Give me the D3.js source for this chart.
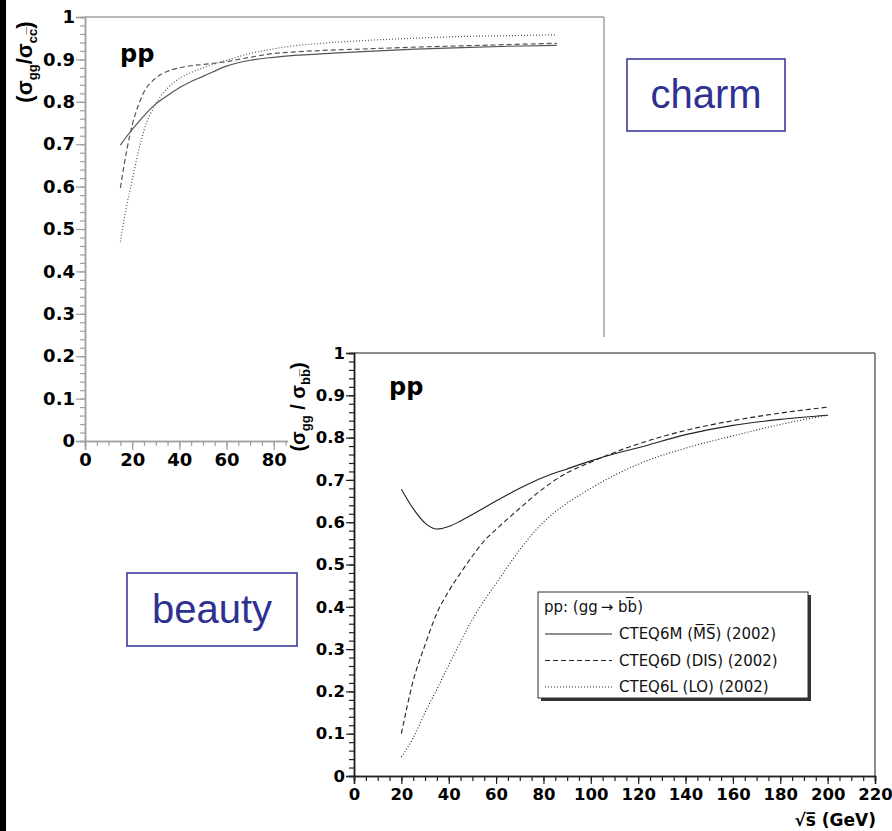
<!DOCTYPE html>
<html><head><meta charset="utf-8">
<script src="https://cdn.jsdelivr.net/npm/d3@7"></script>
<style>
html,body{margin:0;padding:0;background:#fff;overflow:hidden}
svg{display:block;font-family:"Liberation Sans",Arial,Helvetica,sans-serif}
</style></head><body>
<svg id="c" width="892" height="831"></svg>
<script>
// ---- data ----
const charmX = [15,17.5,20,22.5,25,30,35,40,45,50,60,70,80,90,100,120,140,160,180,200];
const charmMS  = [0.698,0.717,0.735,0.751,0.767,0.795,0.815,0.833,0.848,0.860,0.884,0.898,0.905,0.910,0.913,0.919,0.924,0.928,0.931,0.933];
const charmDIS = [0.597,0.680,0.745,0.790,0.823,0.856,0.872,0.880,0.885,0.888,0.895,0.905,0.914,0.918,0.921,0.925,0.929,0.932,0.935,0.938];
const charmLO  = [0.470,0.550,0.615,0.680,0.733,0.795,0.832,0.855,0.869,0.880,0.898,0.914,0.925,0.933,0.938,0.945,0.950,0.954,0.956,0.958];

const beautyX = [20,25,30,35,40,45,50,55,60,70,80,90,100,110,120,140,160,180,200];
const beautyMS  = [0.678,0.632,0.598,0.584,0.590,0.603,0.618,0.634,0.650,0.680,0.706,0.726,0.745,0.762,0.776,0.807,0.829,0.843,0.853];
const beautyDIS = [0.100,0.225,0.310,0.385,0.437,0.480,0.520,0.556,0.583,0.633,0.680,0.717,0.742,0.765,0.785,0.817,0.840,0.858,0.872];
const beautyLO  = [0.045,0.090,0.150,0.205,0.262,0.318,0.370,0.415,0.455,0.535,0.600,0.645,0.680,0.711,0.737,0.775,0.804,0.831,0.853];

const yTicks = [0,0.1,0.2,0.3,0.4,0.5,0.6,0.7,0.8,0.9,1];
const xTicks = [0,20,40,60,80,100,120,140,160,180,200,220];
const legendTitle = "pp: (gg\u2009\u2192 bb\u0305)";
const legendLabels = ["CTEQ6M (M\u0305S\u0305) (2002)","CTEQ6D (DIS) (2002)","CTEQ6L (LO) (2002)"];

const svg = d3.select("#c");
svg.append("rect").attr("width",892).attr("height",831).attr("fill","#fff");

const BOLD = "'DejaVu Sans',Verdana,sans-serif";
const yFmt = d => d===0?"0":d===1?"1":d3.format(".1f")(d);
const minorY = d3.range(0,1.0001,0.02);
const minorX = d3.range(0,220.001,5);
const dashes = [null,"5,3","1,2"];

function drawPanel(o){
  const x = d3.scaleLinear().domain([0,220]).range([o.x0,o.x1]);
  const y = d3.scaleLinear().domain([0,1]).range([o.y0,o.y1]);
  const g = svg.append("g");
  g.append("line").attr("x1",o.x0).attr("x2",o.x1).attr("y1",o.y1).attr("y2",o.y1).attr("stroke",o.frame).attr("stroke-width",1.5);
  g.append("line").attr("x1",o.x1).attr("x2",o.x1).attr("y1",o.y1).attr("y2",o.y0).attr("stroke",o.frame).attr("stroke-width",1.5);
  const ym = g.append("g").attr("transform",`translate(${o.x0},0)`).call(d3.axisLeft(y).tickValues(minorY).tickSize(o.minor).tickFormat(""));
  const xm = g.append("g").attr("transform",`translate(0,${o.y0})`).call(d3.axisBottom(x).tickValues(minorX).tickSize(o.minor).tickFormat(""));
  const ya = g.append("g").attr("transform",`translate(${o.x0},0)`).call(d3.axisLeft(y).tickValues(yTicks).tickSize(o.major).tickPadding(1).tickFormat(yFmt));
  const xa = g.append("g").attr("transform",`translate(0,${o.y0})`).call(d3.axisBottom(x).tickValues(xTicks).tickSize(o.major).tickPadding(o.xpad).tickFormat(d3.format("d")));
  [ym,xm,ya,xa].forEach(a=>{
    a.selectAll("path").attr("stroke",o.axis).attr("stroke-width",1.5);
    a.selectAll("line").attr("stroke",o.axis).attr("stroke-width",1.2);
    a.selectAll("text").attr("fill","#000").attr("font-weight","bold").attr("font-size",o.fs).attr("font-family",BOLD);
  });
  const line = d3.line().x(d=>x(d[0])).y(d=>y(d[1])).curve(d3.curveMonotoneX);
  o.series.forEach((s,i)=>{
    g.append("path").datum(o.xs.map((v,j)=>[v,s[j]])).attr("d",line).attr("fill","none")
      .attr("stroke",o.lineColor).attr("stroke-width",o.lw).attr("stroke-dasharray",dashes[i]);
  });
  return {x,y,g};
}

// ---- charm panel ----
const topPanel = drawPanel({x0:85,x1:604,y0:441,y1:17,frame:"#a0a0a0",axis:"#a0a0a0",minor:5,major:9,fs:18,xpad:3,
  xs:charmX,series:[charmMS,charmDIS,charmLO],lineColor:"#555",lw:1.2});
topPanel.g.append("text").attr("x",120).attr("y",62).attr("font-size",24).attr("font-weight","bold").attr("font-family",BOLD).text("pp");
const tl = svg.append("text").attr("transform","translate(32,62) rotate(-90)").attr("text-anchor","middle")
  .attr("font-size",22).attr("font-weight","bold");
tl.append("tspan").text("(\u03c3");
tl.append("tspan").attr("font-size",13).attr("dy",5).text("gg");
tl.append("tspan").attr("dy",-5).text("/\u03c3");
tl.append("tspan").attr("font-size",13).attr("dy",5).text("cc\u0305");
tl.append("tspan").attr("dy",-5).text(")");

// ---- beauty panel (covers lower right of charm panel) ----
svg.append("rect").attr("x",288).attr("y",337).attr("width",604).attr("height",494).attr("fill","#fff");
const botPanel = drawPanel({x0:354,x1:875,y0:776,y1:353,frame:"#666",axis:"#222",minor:5,major:8,fs:16.5,xpad:4,
  xs:beautyX,series:[beautyMS,beautyDIS,beautyLO],lineColor:"#222",lw:1.1});
botPanel.g.append("text").attr("x",389).attr("y",395).attr("font-size",24).attr("font-weight","bold").attr("font-family",BOLD).text("pp");
const bl = svg.append("text").attr("transform","translate(305,407) rotate(-90)").attr("text-anchor","middle")
  .attr("font-size",20).attr("font-weight","bold");
bl.append("tspan").text("(\u03c3");
bl.append("tspan").attr("font-size",13).attr("dy",5).text("gg");
bl.append("tspan").attr("dy",-5).text(" / \u03c3");
bl.append("tspan").attr("font-size",13).attr("dy",5).text("bb\u0305");
bl.append("tspan").attr("dy",-5).text(")");
svg.append("text").attr("x",876).attr("y",826).attr("text-anchor","end").attr("font-size",17).attr("font-weight","bold")
  .attr("font-family",BOLD).text("\u221as\u0305 (GeV)");

// legend
const lg = svg.append("g");
lg.append("rect").attr("x",541).attr("y",595).attr("width",270).attr("height",106).attr("fill","#333");
lg.append("rect").attr("x",538).attr("y",592).attr("width",270).attr("height",106).attr("fill","#fff").attr("stroke","#333").attr("stroke-width",1);
lg.append("text").attr("x",544).attr("y",612).attr("font-size",15).attr("font-family",BOLD).attr("fill","#111").text(legendTitle);
legendLabels.forEach((t,i)=>{
  const cy = 634 + i*26.5;
  lg.append("line").attr("x1",545).attr("x2",612).attr("y1",cy).attr("y2",cy).attr("stroke","#222").attr("stroke-width",1)
    .attr("stroke-dasharray",dashes[i]);
  lg.append("text").attr("x",619).attr("y",cy+5).attr("font-size",15).attr("font-family",BOLD).attr("fill","#111").text(t);
});

function box(x,y,w,h,t){
  svg.append("rect").attr("x",x).attr("y",y).attr("width",w).attr("height",h).attr("fill","#fff").attr("stroke","#3b3ba0").attr("stroke-width",1.6);
  svg.append("text").attr("x",x+w/2).attr("y",y+h/2+13).attr("text-anchor","middle").attr("font-size",40)
    .attr("font-family","'Liberation Sans',Arial,sans-serif").attr("fill","#2e3192").text(t);
}
box(627,59,158,72,"charm");
box(127,573,170,73,"beauty");

svg.append("rect").attr("x",0).attr("y",0).attr("width",6).attr("height",831).attr("fill","#000");
</script></body></html>
